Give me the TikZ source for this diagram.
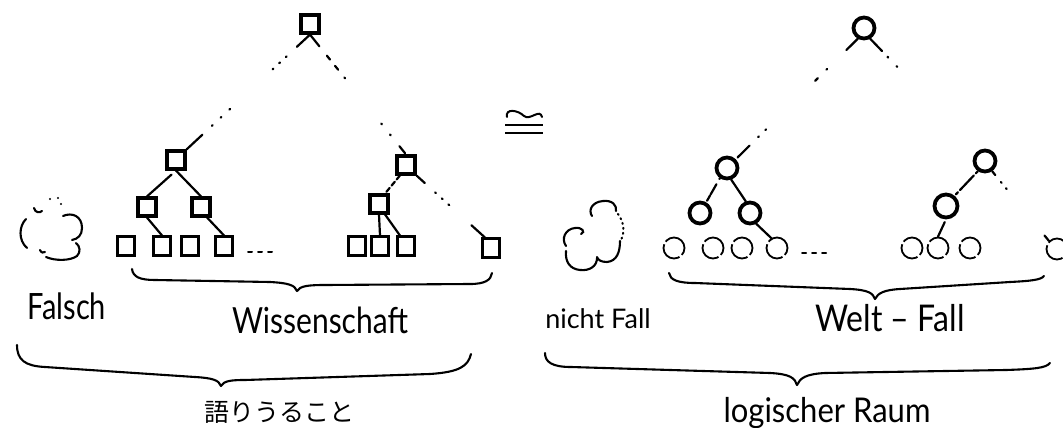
\documentclass[tikz,border=0pt]{standalone}
\usepackage{fontspec}
\setmainfont{Lato}
\newfontfamily\jpfont{Noto Sans CJK JP}
\usetikzlibrary{calc}

\begin{document}
\begin{tikzpicture}[x=1pt,y=-1pt,
  sqbig/.style={rectangle, draw, line width=3.2pt, minimum size=18pt, inner sep=0pt},
  sqleaf/.style={rectangle, draw, line width=2.1pt, minimum width=17pt, minimum height=19pt, inner sep=0pt},
  cbig/.style={circle, draw, line width=3.8pt, minimum size=21pt, inner sep=0pt},
  cleaf/.style={circle, draw, line width=1.8pt, minimum size=21pt, inner sep=0pt, dash pattern=on 26pt off 3pt},
  edge/.style={line width=2.2pt, line cap=round},
  curly/.style={line width=2.1pt, line cap=round, line join=round},
  cloud/.style={line width=2.1pt, line cap=round},
  ellip/.style={line width=2pt, line cap=round, dash pattern=on 4pt off 6pt},
  hand/.style={inner sep=0pt, anchor=center},
]
\fill[white] (0,0) rectangle (1063,428);
\useasboundingbox (0,0) rectangle (1063,428);

% ---------- left tree: sentences ----------
\node[sqbig] (sR)  at (310,24)  {};
\node[sqbig] (sA)  at (176,160) {};
\node[sqbig] (sB)  at (406,165) {};
\node[sqbig] (sA1) at (147,207) {};
\node[sqbig] (sA2) at (201,207) {};
\node[sqbig] (sB1) at (379,204) {};
\node[sqleaf] (sL1) at (126,246) {};
\node[sqleaf] (sL2) at (162,246) {};
\node[sqleaf] (sL3) at (190,246) {};
\node[sqleaf] (sL4) at (224,246) {};
\node[sqleaf] (sR1) at (357,246) {};
\node[sqleaf] (sR2) at (380,246) {};
\node[sqleaf] (sR3) at (406,246) {};
\node[sqleaf] (sR9) at (491,248) {};

\draw[edge, dash pattern=on 18pt off 14pt on 1pt off 8pt on 1pt off 8pt on 1pt off 58pt on 1pt off 11pt on 1pt off 11pt on 1pt off 13pt on 25pt]
  (sR.south) -- (sA.north east);
\draw[edge, dash pattern=on 15pt off 12pt on 5pt off 8pt on 5pt off 10pt on 1pt off 58pt on 1pt off 13pt on 1pt off 14pt on 9pt]
  (sR.south) -- (sB.north);
\draw[edge, dash pattern=on 0pt off 6pt on 40pt] (sA.south) -- (sA1.north);
\draw[edge] (sA.south) -- (sA2.north);
\draw[edge] (sA1.south) -- (sL2.north);
\draw[edge] (sA2.-60) -- (sL4.north);
\draw[edge, dash pattern=on 5pt off 3pt] (sB.-120) -- (sB1.60);
\draw[edge, dash pattern=on 11pt off 14pt on 1pt off 8pt on 1pt off 8pt on 1pt off 30pt on 20pt]
  (sB.-45) -- (sR9.120);
\draw[edge] (sB1.south) -- (sR2.north);
\draw[edge] (sB1.-60) -- (sR3.120);
\draw[ellip] (248,252) -- (277,252);

% ---------- right tree: facts ----------
\node[cbig] (cR)  at (864,28)  {};
\node[cbig] (cA)  at (727,168) {};
\node[cbig] (cB)  at (985,161) {};
\node[cbig] (cA1) at (700,213) {};
\node[cbig] (cA2) at (750,213) {};
\node[cbig, minimum size=23pt] (cB1) at (946,206) {};
\node[cleaf] (cL1) at (674,248) {};
\node[cleaf] (cL2) at (713,248) {};
\node[cleaf] (cL3) at (742,248) {};
\node[cleaf] (cL4) at (777,248) {};
\node[cleaf] (cR1) at (912,248) {};
\node[cleaf] (cR2) at (938,248) {};
\node[cleaf] (cR3) at (970,248) {};
\node[cleaf] (cR9) at (1057,249) {};

\draw[edge, dash pattern=on 16pt off 27pt on 1pt off 12pt on 4pt off 69pt on 1pt off 9pt on 1pt off 12pt on 17pt]
  (cR.240) -- (cA.45);
\draw[edge, dash pattern=on 17pt off 8pt on 1pt off 12pt on 1pt off 200pt]
  (cR.300) -- (cB.125);
\draw[edge, dash pattern=on 1pt off 6pt on 12pt] (cA.235) -- (cA1.60);
\draw[edge] (cA.290) -- (cA2.110);
\draw[edge] (cA2.300) -- (cL4.120);
\draw[edge, dash pattern=on 3pt off 3pt on 20pt] (cB.235) -- (cB1.50);
\draw[edge, dash pattern=on 5pt off 9pt on 1pt off 7pt on 1pt off 60pt on 9pt]
  (cB.305) -- (cR9.135);
\draw[edge, shorten <=3pt] (cB1.south) -- (cR2.north);
\draw[ellip] (802,253) -- (830,253);

% ---------- clouds ----------
\draw[cloud] (26,219) .. controls (19,226) and (18,240) .. (27,248);
\draw[cloud] (34,208) .. controls (35,213) and (40,213) .. (42,211);
\fill (50,199) circle (1.2) (58,198) circle (1.2) (61,204) circle (1.2);
\draw[cloud] (63,216) .. controls (72,212) and (82,216) .. (82,228)
             .. controls (82,235) and (78,239) .. (72,240);
\draw[cloud] (76,243) .. controls (80,246) and (81,252) .. (77,256)
             .. controls (70,261) and (55,261) .. (46,257);
\draw[cloud] (40,250) .. controls (41,253) and (44,253) .. (45,252);

\draw[cloud] (592,216) .. controls (588,210) and (592,202) .. (603,201)
             .. controls (612,200) and (617,205) .. (616,211);
\draw[cloud, dash pattern=on 1pt off 4pt] (618,214) .. controls (624,222) and (625,232) .. (621,240);
\draw[cloud] (620,241) .. controls (620,252) and (617,261) .. (607,262)
             .. controls (601,262) and (598,260) .. (597,257);
\draw[cloud] (597,258) .. controls (597,266) and (590,271) .. (580,270)
             .. controls (570,269) and (565,262) .. (566,251);
\draw[cloud] (566,246) .. controls (561,239) and (565,229) .. (575,228)
             .. controls (582,227) and (586,232) .. (581,234);

% ---------- congruence sign ----------
\draw[line width=2pt, line cap=round] (507,117) .. controls (505,108) and (518,110) .. (524,116)
      .. controls (530,121) and (540,108) .. (542,117);
\draw[line width=2pt] (505,125) -- (543,125);
\draw[line width=2pt] (505,133) -- (543,133);

% ---------- braces ----------
\draw[curly] (132,269) .. controls (133,277) and (140,280) .. (155,280) -- (270,282)
  .. controls (288,283) and (295,285) .. (297,291)
  .. controls (300,286) and (308,285) .. (325,285) -- (470,284)
  .. controls (485,284) and (491,280) .. (492,273);
\draw[curly] (17,345) .. controls (17,360) and (25,366) .. (45,367) -- (195,377)
  .. controls (212,378) and (219,380) .. (221,386)
  .. controls (224,381) and (230,380) .. (245,380) -- (430,374)
  .. controls (460,372) and (468,366) .. (471,354);
\draw[curly] (669,273) .. controls (670,280) and (678,283) .. (695,283) -- (850,289)
  .. controls (868,290) and (873,293) .. (875,299)
  .. controls (878,293) and (884,290) .. (900,289) -- (1010,282)
  .. controls (1030,281) and (1041,280) .. (1044,276);
\draw[curly] (545,353) .. controls (545,362) and (552,367) .. (571,367) -- (770,373)
  .. controls (790,374) and (795,378) .. (797,385)
  .. controls (800,378) and (806,374) .. (825,373) -- (1006,370)
  .. controls (1035,369) and (1046,368) .. (1050,363);

% ---------- labels ----------
\node[hand] (falsch) at (67,306) {\fontsize{29}{29}\selectfont\scalebox{1}[1.25]{Falsch}};
\node[hand] (wiss) at (320,320) {\fontsize{30}{30}\selectfont\scalebox{1}[1.2]{Wissenschaft}};
\node[hand] (nicht) at (598,319) {\fontsize{27}{27}\selectfont nicht Fall};
\node[hand] (welt) at (890,318) {\fontsize{32}{32}\selectfont\scalebox{1}[1.15]{Welt – Fall}};
\node[hand] (sayable) at (279,412) {\jpfont\fontsize{25}{25}\selectfont 語りうること};
\node[hand] (raum) at (827,413) {\fontsize{31}{31}\selectfont\scalebox{1}[1.1]{logischer Raum}};
\end{tikzpicture}
\end{document}
